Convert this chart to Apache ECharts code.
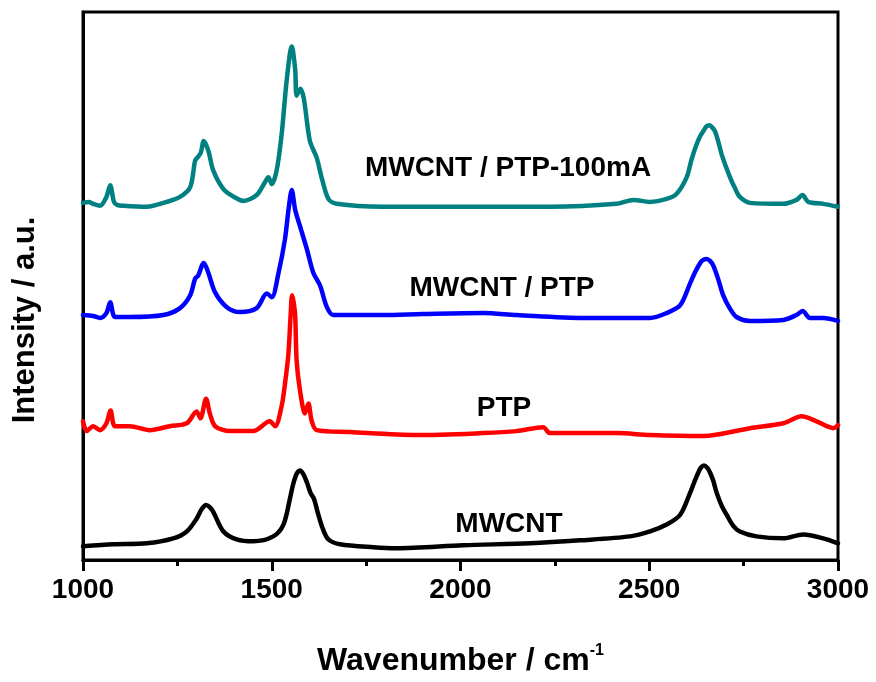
<!DOCTYPE html>
<html><head><meta charset="utf-8">
<script src="https://cdn.jsdelivr.net/npm/echarts@6/dist/echarts.min.js"></script>
<style>html,body{margin:0;padding:0;background:#fff}#c{width:876px;height:682px}</style>
</head><body><div id="c"></div>
<script>
// Tick labels of the x axis
const xTickLabels = [1000, 1500, 2000, 2500, 3000];
const seriesNames = ['MWCNT', 'PTP', 'MWCNT / PTP', 'MWCNT / PTP-100mA'];

// MWCNT (black)
const wnMWCNT  = [1000,1080,1169,1239,1275,1301,1315,1326,1335,1345,1372,1407,1451,1504,1531,1548,1556,1564,1570,1575,1584,1593,1603,1612,1622,1635,1650,1681,1769,1831,2007,2184,2317,2449,2502,2546,2582,2609,2620,2630,2637,2645,2653,2661,2670,2678,2692,2705,2722,2740,2784,2855,2908,2961,3000];
const intMWCNT = [14,16,17,22,29,42,52,56,54,49,29,21,19,24,36,62,76,86,90,91,87,79,68,62,48,32,21,16,13,12,15,17,20,24,29,36,46,69,80,89,94,96,94,89,80,69,55,46,35,29,24,22,26,22,17];

// PTP (red)
const wnPTP  = [1000,1010,1027,1045,1062,1073,1085,1124,1177,1230,1275,1301,1311,1326,1336,1350,1389,1451,1495,1509,1526,1535,1544,1550,1554,1558,1562,1566,1575,1588,1597,1606,1619,1707,1884,2060,2148,2219,2237,2413,2502,2643,2767,2855,2904,2943,2988,3000];
const intPTP = [141,131,136,132,139,152,136,136,132,136,139,151,144,164,149,136,131,131,141,136,156,179,209,249,269,262,249,202,172,149,159,141,132,130,127,129,131,135,129,129,127,126,134,139,146,141,134,137];

// MWCNT / PTP (blue)
const wnComp  = [1000,1027,1045,1062,1072,1085,1124,1213,1257,1284,1297,1305,1320,1332,1350,1381,1416,1460,1487,1500,1518,1535,1545,1553,1562,1575,1593,1610,1628,1646,1663,1795,1900,2060,2148,2325,2502,2546,2582,2609,2622,2635,2643,2652,2661,2670,2683,2696,2713,2731,2767,2855,2890,2906,2926,2961,3000];
const intComp = [249,248,246,251,262,247,247,249,256,269,286,289,302,292,272,257,252,256,271,267,292,326,358,376,356,339,316,292,279,257,249,249,250,251,249,246,246,251,259,282,293,302,305,306,304,299,285,269,256,247,243,244,249,253,246,246,243];

// MWCNT / PTP-100mA (teal)
const wnComp100  = [1000,1015,1027,1045,1062,1072,1082,1090,1107,1169,1222,1257,1284,1297,1303,1312,1320,1332,1345,1372,1400,1425,1460,1482,1491,1500,1513,1526,1540,1553,1562,1566,1576,1585,1601,1619,1632,1650,1672,1795,1900,2060,2237,2413,2458,2502,2546,2572,2599,2612,2625,2635,2645,2652,2659,2666,2674,2683,2692,2703,2714,2727,2740,2767,2855,2890,2906,2921,2961,3000];
const intComp100 = [363,364,362,360,369,381,364,361,360,359,364,369,379,406,409,414,426,416,396,377,369,365,371,384,389,382,396,432,489,522,499,472,479,469,426,409,389,367,362,359,359,359,359,362,366,364,367,372,389,407,422,431,437,441,442,440,436,425,412,400,389,378,369,363,362,366,371,364,362,359];

const colors = ['#000000', '#ff0000', '#0000ff', '#008080'];
const waves = [wnMWCNT, wnPTP, wnComp, wnComp100];
const ints = [intMWCNT, intPTP, intComp, intComp100];

const chart = echarts.init(document.getElementById('c'), null, {renderer: 'canvas'});
const FONT = 'Liberation Sans, Arial, sans-serif';

const series = seriesNames.map((n, i) => ({
  name: n, type: 'line', showSymbol: false, symbol: 'none',
  smooth: 0.3,
  lineStyle: {color: colors[i], width: 4.5, join: 'round', cap: 'round'},
  data: waves[i].map((w, k) => [w, ints[i][k]])
}));

const labelPos = [[509, 524], [504, 408], [502, 288], [508, 168]];

chart.setOption({
  animation: false,
  backgroundColor: '#fff',
  grid: {left: 83, right: 38, top: 12, bottom: 113, show: true, borderColor: '#000', borderWidth: 3, backgroundColor: 'transparent'},
  xAxis: {
    type: 'value', min: 1000, max: 3000, interval: 500,
    axisLine: {show: true, lineStyle: {color: '#000', width: 3}},
    axisTick: {show: true, inside: false, length: 11, lineStyle: {color: '#000', width: 3}},
    minorTick: {show: true, splitNumber: 2, length: 6, lineStyle: {color: '#000', width: 3}},
    splitLine: {show: false},
    axisLabel: {color: '#000', fontSize: 28, fontWeight: 'bold', fontFamily: FONT, margin: 16,
      formatter: v => xTickLabels.includes(v) ? String(v) : ''},
    name: '{a|Wavenumber / cm}{b|-1}',
    nameLocation: 'middle', nameGap: 83,
    nameTextStyle: {rich: {
      a: {fontSize: 32, fontWeight: 'bold', fontFamily: FONT, color: '#000', lineHeight: 36},
      b: {fontSize: 16, fontWeight: 'bold', fontFamily: FONT, color: '#000', verticalAlign: 'top', lineHeight: 36, padding: [0, 0, 14, 0]}
    }}
  },
  yAxis: {
    type: 'value', min: 0, max: 557,
    axisLine: {show: true, lineStyle: {color: '#000', width: 3}},
    axisTick: {show: false}, axisLabel: {show: false}, splitLine: {show: false}
  },
  graphic: [
    {type: 'text', x: 25, y: 320, rotation: Math.PI / 2,
      style: {text: 'Intensity / a.u.', font: 'bold 31px ' + FONT, fill: '#000', align: 'center', verticalAlign: 'middle'}}
  ].concat(seriesNames.map((n, i) => ({
    type: 'text', x: labelPos[i][0], y: labelPos[i][1],
    style: {text: n, font: 'bold 28px ' + FONT, fill: '#000', align: 'center', verticalAlign: 'middle'}
  }))),
  series: series
});
</script>
</body></html>
